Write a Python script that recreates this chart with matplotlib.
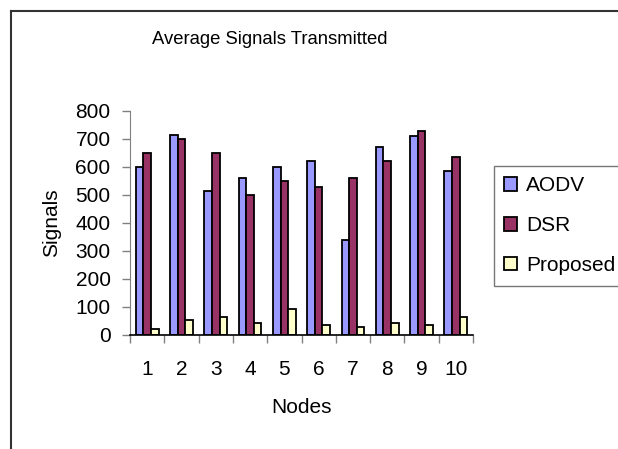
import numpy as np
import matplotlib
matplotlib.use("Agg")
import matplotlib.pyplot as plt
from matplotlib.lines import Line2D

nodes = ["1", "2", "3", "4", "5", "6", "7", "8", "9", "10"]
aodv = [600, 715, 515, 560, 600, 620, 340, 670, 710, 585]
dsr = [650, 700, 650, 500, 550, 530, 560, 620, 730, 635]
proposed = [20, 55, 63, 42, 92, 35, 27, 42, 35, 63]

series = [("AODV", aodv, "#9999FF"),
          ("DSR", dsr, "#993366"),
          ("Proposed", proposed, "#FFFFCC")]

plt.rcParams["font.family"] = ["Liberation Sans", "DejaVu Sans"]
fs = 15
title_fs = 13.3

W, H = 618, 449
fig = plt.figure(figsize=(W / 100, H / 100), dpi=100)

# plot area in pixel terms
left, right, top, bottom = 130, 473, 111, 335
ax = fig.add_axes([left / W, 1 - bottom / H, (right - left) / W, (bottom - top) / H])

x = np.arange(len(nodes))
w = 1 / 4.5
for i, (name, vals, col) in enumerate(series):
    ax.bar(x + (i - 1) * w, vals, width=w, color=col, edgecolor="black",
           linewidth=1.3, label=name)

ax.set_xlim(-0.5, len(nodes) - 0.5)
ax.set_ylim(0, 800)
ax.set_yticks(np.arange(0, 801, 100))
ax.set_xticks(x)
ax.set_xticklabels(nodes)
ax.set_xticks(np.arange(-0.5, len(nodes), 1), minor=True)

ax.tick_params(axis="x", which="major", length=0, pad=18, labelsize=fs)
ax.tick_params(axis="x", which="minor", length=6, width=1, color="#808080",
               direction="out")
ax.tick_params(axis="y", length=6, width=1, color="#808080", direction="out",
               pad=8, labelsize=fs)

for s in ["top", "right"]:
    ax.spines[s].set_visible(False)
ax.spines["left"].set_color("#808080")
ax.spines["bottom"].set_color("black")
ax.spines["bottom"].set_linewidth(1.2)

ax.set_xlabel("Nodes", fontsize=fs, labelpad=14)
ax.set_ylabel("Signals", fontsize=fs, labelpad=10)

fig.text(270 / W, 1 - 40 / H, "Average Signals Transmitted", fontsize=title_fs,
         ha="center", va="center")

ax.legend(loc="upper left", bbox_to_anchor=(494 / W, 1 - 166 / H),
          bbox_transform=fig.transFigure, fontsize=fs, frameon=True,
          fancybox=False, edgecolor="#555555", handlelength=0.6,
          handleheight=0.6, handletextpad=0.45, labelspacing=1.0,
          borderpad=0.5, borderaxespad=0)
ax.get_legend().get_frame().set_linewidth(1.0)

# chart frame edges
fig.add_artist(Line2D([11 / W, 1], [1 - 11 / H, 1 - 11 / H],
                      transform=fig.transFigure, color="#333333", lw=1.5))
fig.add_artist(Line2D([11 / W, 11 / W], [0, 1 - 11 / H],
                      transform=fig.transFigure, color="#333333", lw=1.5))

fig.savefig("out.png", dpi=100)
